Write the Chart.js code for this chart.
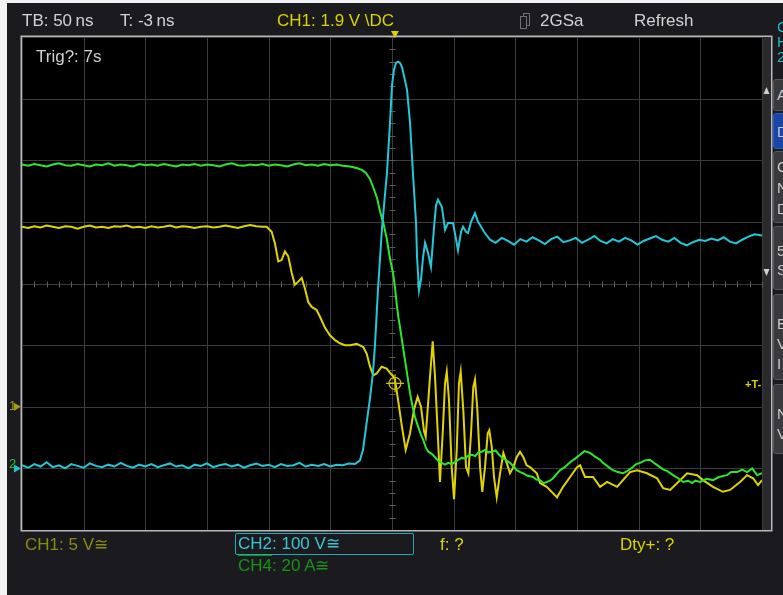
<!DOCTYPE html>
<html>
<head>
<meta charset="utf-8">
<script src="https://cdn.jsdelivr.net/npm/chart.js"></script>
<style>
  html, body { margin: 0; padding: 0; background: #f2f2f2; overflow: hidden; }
  #screen { position: relative; width: 783px; height: 595px; }
  #grafico { position: absolute; left: 0; top: 0; }
  .t { position: absolute; white-space: nowrap; font-family: "Liberation Sans", Arial, sans-serif;
       font-size: 17px; line-height: 20px; color: #d2d2d2; }
  .y { color: #d9d400; }
  .btn { position: absolute; left: 773px; width: 30px; background: #3a3a3e; border: 1px solid #58585c;
         border-radius: 3px; box-sizing: border-box; padding-left: 3px; color: #c8c8c8;
         font-family: "Liberation Sans", Arial, sans-serif; font-size: 15px; line-height: 20px; }
  .ovl { text-decoration: overline; }
</style>
</head>
<body>
<div id="screen">
  <canvas id="grafico" width="783" height="595"></canvas>

  <div class="t" style="left:22px;top:11px">TB: 50&thinsp;ns</div>
  <div class="t" style="left:120px;top:11px">T: -3&thinsp;ns</div>
  <div class="t y" style="left:277px;top:11px">CH1: 1.9 V \DC</div>
  <div class="t" style="left:540px;top:11px">2GSa</div>
  <div class="t" style="left:634px;top:11px">Refresh</div>
  <div class="t" style="left:777px;top:19px;color:#22b8c4;font-size:15px;line-height:15px">C<br>H<br>2</div>

  <div class="t" style="left:36px;top:47px;color:#d0d0d0">Trig?: 7s</div>

  <div class="t" style="left:25px;top:535px;color:#8c8a16">CH1: 5 V≅</div>
  <div style="position:absolute;left:235px;top:533px;width:179px;height:22px;box-sizing:border-box;border:1.5px solid #1fa9b4;border-radius:2px"></div>
  <div class="t" style="left:238px;top:534px;color:#38c6d2">CH2: 100 V≅</div>
  <div class="t y" style="left:440px;top:535px">f: ?</div>
  <div class="t y" style="left:620px;top:535px">Dty+: ?</div>
  <div class="t" style="left:238px;top:556px;color:#169416"><span class="ovl">CH4</span>: 20 A≅</div>

  <div class="t" style="left:9px;top:396px;font-size:13px;color:#a09c18">1</div>
  <div class="t" style="left:9px;top:454px;font-size:13px;color:#2cc02c">2</div>
  <div class="t y" style="left:745px;top:374px;font-size:11px;font-weight:bold">+T-</div>

  <div class="btn" style="top:79px;height:32px;padding-top:5px">A</div>
  <div class="btn" style="top:113px;height:36px;padding-top:8px;background:#1846a8;border-color:#2a5cc0">D</div>
  <div class="btn" style="top:151px;height:72px;padding-top:4px;line-height:21px">C<br>N<br>D</div>
  <div class="btn" style="top:226px;height:64px;padding-top:14px;line-height:19px">5<br>S</div>
  <div class="btn" style="top:294px;height:86px;padding-top:19px">E<br>V<br>I</div>
  <div class="btn" style="top:384px;height:70px;padding-top:19px">N<br>V</div>
</div>

<script>
  // escala da tela: 50 ns por divisao, 12 x 8 divisoes
  const nsPorDiv = 50;
  const tempoMin = -300;
  const tempoMax = 300;
  const divMin = -4;
  const divMax = 4;
  const gatilhoTempo = 2.4;   // ns
  const gatilhoNivel = -1.62; // div
  const terraCh1 = -2;        // div
  const terraCh2 = -3;        // div

  // CH1 (amarelo) [ns, div]
  const ch1 = [
    [-300,0.92],[-295,0.90],[-290,0.93],[-285,0.91],[-280,0.94],[-275,0.92],[-270,0.90],[-265,0.93],
    [-260,0.92],[-255,0.89],[-250,0.92],[-245,0.94],[-240,0.91],[-235,0.92],[-230,0.90],[-225,0.93],
    [-220,0.92],[-215,0.94],[-210,0.91],[-205,0.92],[-200,0.90],[-195,0.93],[-190,0.91],[-185,0.92],
    [-180,0.94],[-175,0.91],[-170,0.93],[-165,0.92],[-160,0.90],[-155,0.92],[-150,0.93],[-145,0.91],
    [-140,0.92],[-135,0.94],[-130,0.92],[-125,0.90],[-120,0.93],[-115,0.95],[-110,0.93],[-105,0.92],
    [-101.6,0.92],[-97.6,0.84],[-94.9,0.65],[-92.2,0.36],[-89.5,0.38],[-86.8,0.52],[-84.1,0.44],
    [-81.3,0.17],[-78.7,-0.02],[-76.0,0.03],[-73.2,0.09],[-70.6,-0.08],[-67.9,-0.30],[-65.1,-0.38],
    [-61.1,-0.43],[-58.4,-0.54],[-54.3,-0.72],[-50.3,-0.84],[-46.2,-0.92],[-42.2,-0.97],[-38.1,-1.00],
    [-34.1,-1.00],[-28.6,-0.98],[-23.3,-1.03],[-20.5,-1.14],[-17.8,-1.35],[-15.2,-1.49],[-12.4,-1.46],
    [-8.4,-1.35],[-4.3,-1.38],[-1.6,-1.45],[0.8,-1.50],[2.4,-1.56],[4.9,-1.89],[8.1,-2.33],[11.1,-2.70],
    [14.6,-2.43],[17.8,-2.05],[20.8,-1.84],[23.5,-2.00],[26.0,-2.40],[27.3,-2.49],[30.8,-1.52],
    [33.0,-0.94],[34.9,-1.52],[37.1,-2.43],[38.9,-3.22],[41.1,-2.43],[43.0,-1.62],[44.4,-1.43],
    [46.2,-1.89],[48.4,-2.98],[50.3,-3.50],[52.5,-2.70],[54.3,-1.62],[55.7,-1.43],[57.8,-2.05],
    [60.0,-2.98],[61.9,-3.08],[64.1,-2.43],[65.9,-1.68],[67.3,-1.56],[69.2,-2.05],[71.4,-2.98],
    [73.2,-3.38],[75.4,-2.98],[77.6,-2.43],[78.9,-2.38],[80.9,-2.65],[82.7,-3.14],[84.9,-3.47],
    [87.6,-3.08],[90.3,-2.75],[93.0,-2.91],[95.7,-3.08],[98.4,-2.98],[101.1,-2.82],[103.8,-2.73],
    [106.5,-2.82],[109.2,-2.95],[111.9,-2.98],[117.4,-3.08],[120.0,-3.24],[125.5,-3.30],[133.8,-3.47],
    [138.7,-3.30],[144.4,-3.14],[150.0,-2.98],[152.5,-2.95],[156.5,-3.14],[163.0,-3.14],[168.7,-3.30],
    [174.4,-3.22],[182.5,-3.30],[187.3,-3.19],[193.0,-3.06],[198.7,-3.03],[206.8,-3.08],[214.9,-3.16],
    [219.8,-3.32],[225.5,-3.35],[231.1,-3.24],[239.3,-3.08],[247.4,-3.11],[252.2,-3.19],[260.3,-3.30],
    [268.4,-3.38],[274.1,-3.35],[282.2,-3.22],[287.9,-3.11],[292.8,-3.16],[296.8,-3.27],[300,-3.19]
  ];

  // CH2 (ciano) [ns, div]
  const ch2 = [
    [-300,-2.95],[-295,-2.99],[-290,-2.93],[-285,-2.97],[-280,-2.90],[-275,-2.98],[-270,-2.95],
    [-265,-3.00],[-260,-2.93],[-255,-2.96],[-250,-2.99],[-245,-2.92],[-240,-2.96],[-235,-2.98],
    [-230,-2.94],[-225,-2.97],[-220,-2.91],[-215,-2.96],[-210,-2.99],[-205,-2.94],[-200,-2.97],
    [-195,-2.93],[-190,-2.98],[-185,-2.95],[-180,-2.92],[-175,-2.97],[-170,-2.95],[-165,-3.00],
    [-160,-2.94],[-155,-2.96],[-150,-2.92],[-145,-2.98],[-140,-2.95],[-135,-2.93],[-130,-2.97],
    [-125,-2.94],[-120,-2.99],[-115,-2.95],[-110,-2.92],[-105,-2.96],[-100,-2.94],[-95,-2.98],
    [-90,-2.93],[-85,-2.96],[-80,-2.95],[-75,-2.91],[-70,-2.97],[-65,-2.94],[-60,-2.96],[-55,-2.93],
    [-50,-2.97],[-45,-2.94],[-40,-2.95],[-35,-2.92],
    [-30,-2.93],[-26,-2.87],[-23.5,-2.70],[-20.3,-2.22],[-17.8,-1.86],[-15.4,-1.44],[-13.8,-1.00],
    [-11.4,-0.11],[-8.1,0.90],[-5.7,1.44],[-4.1,1.79],[-1.6,2.61],[0,3.22],[1.6,3.47],[3.2,3.58],
    [4.9,3.60],[6.5,3.58],[8.1,3.51],[10.5,3.30],[12.2,3.14],[14.6,2.61],[17,1.79],[19.5,0.98],
    [20.3,0.43],[21.9,-0.11],[23.5,0.06],[25.1,0.41],[26.8,0.66],[29.2,0.50],[31.6,0.27],[34.1,0.92],
    [35.7,1.27],[37.3,1.36],[40.5,1.24],[43,0.87],[45.4,0.98],[49.5,0.98],[52,0.71],[53.5,0.54],
    [56,0.84],[57.6,0.92],[60,0.84],[61.6,0.82],[64.1,1.00],[67.3,1.14],[69.7,1.00],[71.4,0.95],
    [74.6,0.84],[79.5,0.71],[84,0.66],[89,0.74],[94,0.69],[99,0.63],[104,0.72],[109,0.68],[114,0.75],
    [119,0.70],[124,0.64],[129,0.72],[134,0.76],[139,0.67],[144,0.70],[149,0.74],[154,0.66],[159,0.71],
    [164,0.77],[169,0.69],[174,0.65],[179,0.72],[184,0.68],[189,0.74],[194,0.70],[199,0.63],[204,0.69],
    [209,0.73],[214,0.77],[219,0.71],[224,0.68],[229,0.74],[234,0.66],[239,0.62],[244,0.67],[249,0.71],
    [254,0.69],[259,0.73],[264,0.70],[269,0.75],[274,0.68],[279,0.65],[284,0.71],[289,0.76],[294,0.80],
    [300,0.78]
  ];

  // CH4 (verde) [ns, div]
  const ch4 = [
    [-300,1.93],[-295,1.91],[-290,1.94],[-285,1.92],[-280,1.90],[-275,1.93],[-270,1.95],[-265,1.92],
    [-260,1.91],[-255,1.94],[-250,1.92],[-245,1.90],[-240,1.93],[-235,1.92],[-230,1.95],[-225,1.91],
    [-220,1.93],[-215,1.92],[-210,1.90],[-205,1.94],[-200,1.92],[-195,1.93],[-190,1.91],[-185,1.94],
    [-180,1.92],[-175,1.90],[-170,1.93],[-165,1.92],[-160,1.94],[-155,1.91],[-150,1.93],[-145,1.92],
    [-140,1.90],[-135,1.93],[-130,1.95],[-125,1.92],[-120,1.91],[-115,1.93],[-110,1.92],[-105,1.94],
    [-100,1.91],[-95,1.93],[-90,1.92],[-85,1.90],[-80,1.93],[-75,1.95],[-70,1.92],[-65,1.93],
    [-60,1.91],[-55,1.94],[-50,1.92],[-45,1.93],[-40,1.91],
    [-34,1.90],[-28,1.87],[-24,1.84],[-21,1.79],[-18,1.70],[-15.4,1.57],[-12,1.38],[-9.7,1.17],
    [-7,0.98],[-4.1,0.71],[-1.6,0.40],[0.8,0.17],[2.4,-0.06],[3.8,-0.33],[5.2,-0.55],[6.5,-0.71],
    [8.5,-0.98],[10.5,-1.24],[12.5,-1.50],[14.6,-1.78],[16.5,-1.98],[18.7,-2.17],[21.3,-2.33],
    [23.2,-2.44],[25.4,-2.54],[27.4,-2.66],[29.4,-2.73],[32,-2.76],[34.9,-2.82],[37.5,-2.88],
    [40.3,-2.91],[43,-2.94],[45.7,-2.91],[48.4,-2.93],[51.1,-2.90],[53.8,-2.86],[56.5,-2.83],
    [59.5,-2.84],[62,-2.79],[64.6,-2.78],[67.5,-2.80],[70,-2.74],[72.7,-2.73],[75.5,-2.70],[78,-2.74],
    [80.9,-2.73],[84,-2.71],[86.5,-2.77],[89,-2.82],[92,-2.86],[95.7,-2.91],[98.5,-2.97],[101.1,-3.03],
    [104,-3.06],[106.5,-3.08],[110,-3.12],[114.4,-3.14],[117,-3.18],[120,-3.19],[123,-3.24],
    [125.7,-3.22],[128,-3.20],[130.6,-3.16],[133,-3.10],[136.2,-3.03],[140,-2.98],[144.4,-2.90],
    [148,-2.85],[152.5,-2.78],[156,-2.72],[160.6,-2.75],[164,-2.80],[168.7,-2.86],[171,-2.91],
    [174.4,-2.96],[177,-3.00],[179.2,-3.03],[183,-3.06],[187.3,-3.08],[191,-3.04],[194.6,-2.99],
    [198,-2.93],[201.1,-2.91],[205,-2.87],[209.2,-2.86],[213,-2.92],[217.3,-2.98],[220,-3.02],
    [223,-3.04],[227.9,-3.11],[232,-3.16],[236,-3.22],[240,-3.20],[243.3,-3.24],[246,-3.20],
    [249.8,-3.22],[255,-3.17],[260.3,-3.19],[265,-3.14],[271.7,-3.11],[275,-3.06],[279.8,-3.06],
    [284,-3.02],[287.9,-3.06],[292,-3.00],[296,-3.11],[300,-3.08]
  ];

  const paraPontos = (arr) => arr.map(p => ({ x: p[0], y: p[1] }));

  const telaScope = {
    id: 'telaScope',
    beforeDraw(chart) {
      const { ctx, chartArea: a } = chart;
      ctx.save();
      ctx.fillStyle = '#f2f2f2';
      ctx.fillRect(0, 0, chart.width, chart.height);
      ctx.fillStyle = '#1b1a1f';
      ctx.fillRect(7, 3, chart.width - 7, chart.height - 3);
      ctx.fillStyle = '#000';
      ctx.fillRect(a.left, a.top, a.right - a.left, a.bottom - a.top);
      // barra de rolagem
      ctx.fillStyle = '#2a2a2d';
      ctx.fillRect(a.right, a.top, 9, a.bottom - a.top);
      ctx.fillStyle = '#d0d0d0';
      ctx.beginPath();
      ctx.moveTo(a.right + 1.5, 94); ctx.lineTo(a.right + 7.5, 94); ctx.lineTo(a.right + 4.5, 87);
      ctx.closePath(); ctx.fill();
      ctx.beginPath();
      ctx.moveTo(a.right + 1.5, 269); ctx.lineTo(a.right + 7.5, 269); ctx.lineTo(a.right + 4.5, 276);
      ctx.closePath(); ctx.fill();
      // icone de memoria
      ctx.strokeStyle = '#707070';
      ctx.lineWidth = 1;
      ctx.fillStyle = '#1b1a1f';
      ctx.strokeRect(523.5, 13.5, 6, 12);
      ctx.fillRect(520, 16, 7, 13);
      ctx.strokeRect(520.5, 16.5, 6, 12);
      ctx.restore();
    },
    beforeDatasetsDraw(chart) {
      const { ctx, chartArea: a, scales: { x, y } } = chart;
      ctx.save();
      ctx.strokeStyle = '#3c3c3c';
      ctx.lineWidth = 1;
      ctx.beginPath();
      for (let t = tempoMin; t <= tempoMax; t += nsPorDiv) {
        const px = Math.round(x.getPixelForValue(t)) + 0.5;
        ctx.moveTo(px, a.top); ctx.lineTo(px, a.bottom);
      }
      for (let d = divMin; d <= divMax; d++) {
        const py = Math.round(y.getPixelForValue(d)) + 0.5;
        ctx.moveTo(a.left, py); ctx.lineTo(a.right, py);
      }
      ctx.stroke();
      // marcas menores nos eixos centrais
      ctx.strokeStyle = '#5a5a5a';
      ctx.beginPath();
      const cx = Math.round(x.getPixelForValue(0)) + 0.5;
      const cy = Math.round(y.getPixelForValue(0)) + 0.5;
      for (let t = tempoMin; t <= tempoMax; t += nsPorDiv / 5) {
        const px = Math.round(x.getPixelForValue(t)) + 0.5;
        ctx.moveTo(px, cy - 3); ctx.lineTo(px, cy + 3);
      }
      for (let k = divMin * 5; k <= divMax * 5; k++) {
        const py = Math.round(y.getPixelForValue(k / 5)) + 0.5;
        ctx.moveTo(cx - 3, py); ctx.lineTo(cx + 3, py);
      }
      ctx.stroke();
      ctx.restore();
    },
    afterDatasetsDraw(chart) {
      const { ctx, chartArea: a, scales: { x, y } } = chart;
      ctx.save();
      // moldura
      ctx.strokeStyle = '#b8b8b8';
      ctx.lineWidth = 1.5;
      ctx.strokeRect(a.left - 0.75, a.top - 0.75, a.right - a.left + 10.5, a.bottom - a.top + 1.5);
      // gatilho
      const gx = x.getPixelForValue(gatilhoTempo);
      const gy = y.getPixelForValue(gatilhoNivel);
      ctx.strokeStyle = '#cfc400';
      ctx.lineWidth = 1.2;
      ctx.beginPath();
      ctx.arc(gx, gy, 6, 0, Math.PI * 2);
      ctx.moveTo(gx - 9, gy); ctx.lineTo(gx + 9, gy);
      ctx.moveTo(gx, gy - 9); ctx.lineTo(gx, gy + 9);
      ctx.stroke();
      ctx.fillStyle = '#d8d000';
      ctx.beginPath();
      ctx.moveTo(gx - 4, a.top - 6); ctx.lineTo(gx + 4, a.top - 6); ctx.lineTo(gx, a.top + 1);
      ctx.closePath(); ctx.fill();
      // marcadores de terra
      const seta = (nivel, cor) => {
        const py = y.getPixelForValue(nivel);
        ctx.fillStyle = cor;
        ctx.beginPath();
        ctx.moveTo(a.left - 8, py - 4); ctx.lineTo(a.left - 1, py); ctx.lineTo(a.left - 8, py + 4);
        ctx.closePath(); ctx.fill();
      };
      seta(terraCh1, '#a09c18');
      seta(terraCh2, '#22c4d2');
      ctx.restore();
    }
  };

  const grafico = document.getElementById('grafico').getContext('2d');

  const chartScope = new Chart(grafico, {
    type: 'line',
    data: {
      datasets: [
        { label: 'CH2', data: paraPontos(ch2), borderColor: '#22c8d8', order: 1 },
        { label: 'CH4', data: paraPontos(ch4), borderColor: '#2ee62e', order: 2 },
        { label: 'CH1', data: paraPontos(ch1), borderColor: '#e0d400', order: 3 }
      ]
    },
    options: {
      responsive: false,
      animation: false,
      events: [],
      layout: { padding: { left: 22, top: 37, right: 21, bottom: 65 } },
      elements: {
        point: { radius: 0 },
        line: { borderWidth: 2, tension: 0, fill: false }
      },
      datasets: { line: { clip: 0 } },
      scales: {
        x: { type: 'linear', display: false, min: tempoMin, max: tempoMax },
        y: { type: 'linear', display: false, min: divMin, max: divMax }
      },
      plugins: {
        legend: { display: false },
        tooltip: { enabled: false }
      }
    },
    plugins: [telaScope]
  });
</script>
</body>
</html>
